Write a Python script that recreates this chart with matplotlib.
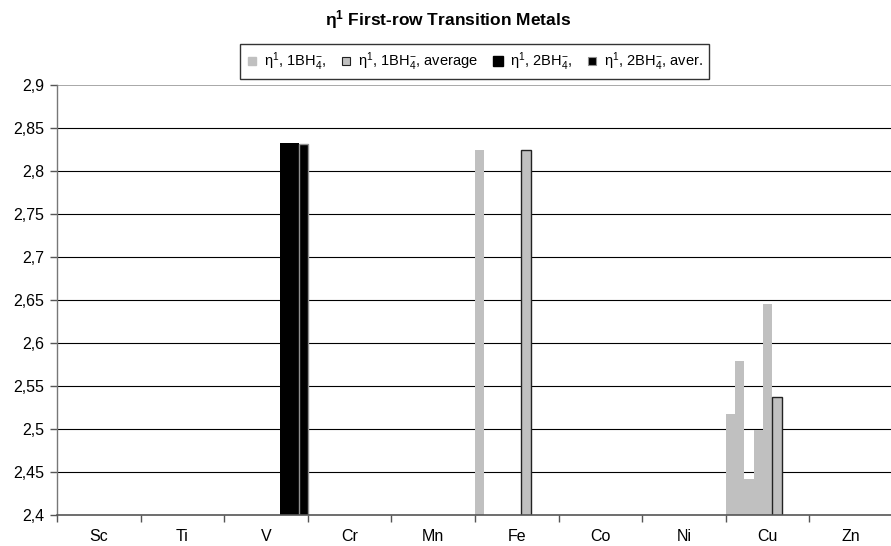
import matplotlib
matplotlib.use("Agg")
import matplotlib.pyplot as plt
from matplotlib.lines import Line2D
from matplotlib.ticker import FixedLocator, FuncFormatter, NullFormatter
import numpy as np

plt.rcParams['font.family'] = ['Liberation Sans', 'DejaVu Sans']
plt.rcParams['mathtext.default'] = 'regular'

# Categories (first-row transition metals)
metals = ['Sc', 'Ti', 'V', 'Cr', 'Mn', 'Fe', 'Co', 'Ni', 'Cu', 'Zn']

# M–B distances for eta1 coordination, one value per complex
single_1bh4 = {'Fe': [2.825], 'Cu': [2.517, 2.579, 2.442, 2.499, 2.646]}
avg_1bh4 = {'Fe': 2.825, 'Cu': 2.537}
single_2bh4 = {'V': [2.833, 2.833]}
avg_2bh4 = {'V': 2.832}

y_ticks = [2.4, 2.45, 2.5, 2.55, 2.6, 2.65, 2.7, 2.75, 2.8, 2.85, 2.9]

n_slots = 9            # bar slots inside one category
slot_w = 1.0 / n_slots

W, H = 891, 546
fig = plt.figure(figsize=(W / 100, H / 100), dpi=100)
ax = fig.add_axes([57 / W, (H - 515) / H, (893 - 57) / W, (515 - 85.3) / H])


def slot_x(metal, slot):
    return metals.index(metal) + slot * slot_w


# eta1, 1 BH4- : slots 0..
for m, vals in single_1bh4.items():
    xs = [slot_x(m, k) for k in range(len(vals))]
    ax.bar(xs, vals, width=slot_w, align='edge', color='#c0c0c0',
           linewidth=0, zorder=3)
# eta1, 1 BH4- average : slot 5
for m, v in avg_1bh4.items():
    ax.bar([slot_x(m, 5)], [v], width=slot_w, align='edge', color='#c0c0c0',
           edgecolor='#222222', linewidth=1.0, zorder=3)
# eta1, 2 BH4- : slots 6, 7
for m, vals in single_2bh4.items():
    xs = [slot_x(m, 6 + k) for k in range(len(vals))]
    ax.bar(xs, vals, width=slot_w, align='edge', color='black',
           linewidth=0, zorder=3)
# eta1, 2 BH4- average : slot 8
for m, v in avg_2bh4.items():
    ax.bar([slot_x(m, 8)], [v], width=slot_w, align='edge', color='black',
           edgecolor='#909090', linewidth=1.0, zorder=3)

ax.set_xlim(0, len(metals))
ax.set_ylim(2.4, 2.9)

# Gridlines
for y in y_ticks[1:-1]:
    ax.axhline(y, color='black', linewidth=0.8, zorder=1)
ax.axhline(2.9, color='#999999', linewidth=1.2, zorder=1)

# Axes styling
for side in ['top', 'right']:
    ax.spines[side].set_visible(False)
ax.spines['left'].set_color('#777777')
ax.spines['left'].set_linewidth(1.0)
ax.spines['bottom'].set_color('#555555')
ax.spines['bottom'].set_linewidth(1.2)
ax.spines['bottom'].set_zorder(4)

ax.yaxis.set_major_locator(FixedLocator(y_ticks))
ax.yaxis.set_major_formatter(FuncFormatter(lambda v, p: f'{v:g}'.replace('.', ',')))
ax.tick_params(axis='y', length=5, width=1, color='#555555', labelsize=11.5, pad=4)

# Category boundary ticks, labels at category centres
ax.xaxis.set_major_locator(FixedLocator(np.arange(0, len(metals) + 1)))
ax.xaxis.set_major_formatter(NullFormatter())
ax.xaxis.set_minor_locator(FixedLocator(np.arange(len(metals)) + 0.5))
ax.set_xticklabels(metals, minor=True)
ax.tick_params(axis='x', which='major', length=5, width=1, color='#555555')
ax.tick_params(axis='x', which='minor', length=0, labelsize=11.5, pad=10)

fig.text(448 / W, 1 - 20 / H, r'$\eta^{1}$ First-row Transition Metals',
         ha='center', va='center', fontsize=12.5, fontweight='bold')

handles = [
    Line2D([], [], linestyle='none', marker='s', markersize=5.5,
           markerfacecolor='#c0c0c0', markeredgecolor='#c0c0c0'),
    Line2D([], [], linestyle='none', marker='s', markersize=6,
           markerfacecolor='#c0c0c0', markeredgecolor='#222222', markeredgewidth=0.8),
    Line2D([], [], linestyle='none', marker='s', markersize=7,
           markerfacecolor='black', markeredgecolor='black'),
    Line2D([], [], linestyle='none', marker='s', markersize=5.5,
           markerfacecolor='black', markeredgecolor='#909090', markeredgewidth=0.8),
]
labels = [r'$\eta^{1}$, 1BH$_{4}^{-}$,',
          r'$\eta^{1}$, 1BH$_{4}^{-}$, average',
          r'$\eta^{1}$, 2BH$_{4}^{-}$,',
          r'$\eta^{1}$, 2BH$_{4}^{-}$, aver.']
leg = fig.legend(handles, labels, loc='center', ncol=4,
                 bbox_to_anchor=((238 + 711) / 2 / W, 1 - 61.5 / H),
                 frameon=True, fancybox=False, fontsize=10.5,
                 handlelength=0.8, handletextpad=0.4, columnspacing=1.0,
                 borderpad=0.4, borderaxespad=0)
leg.get_frame().set_edgecolor('black')
leg.get_frame().set_linewidth(1.0)

fig.savefig('out.png', dpi=100)
